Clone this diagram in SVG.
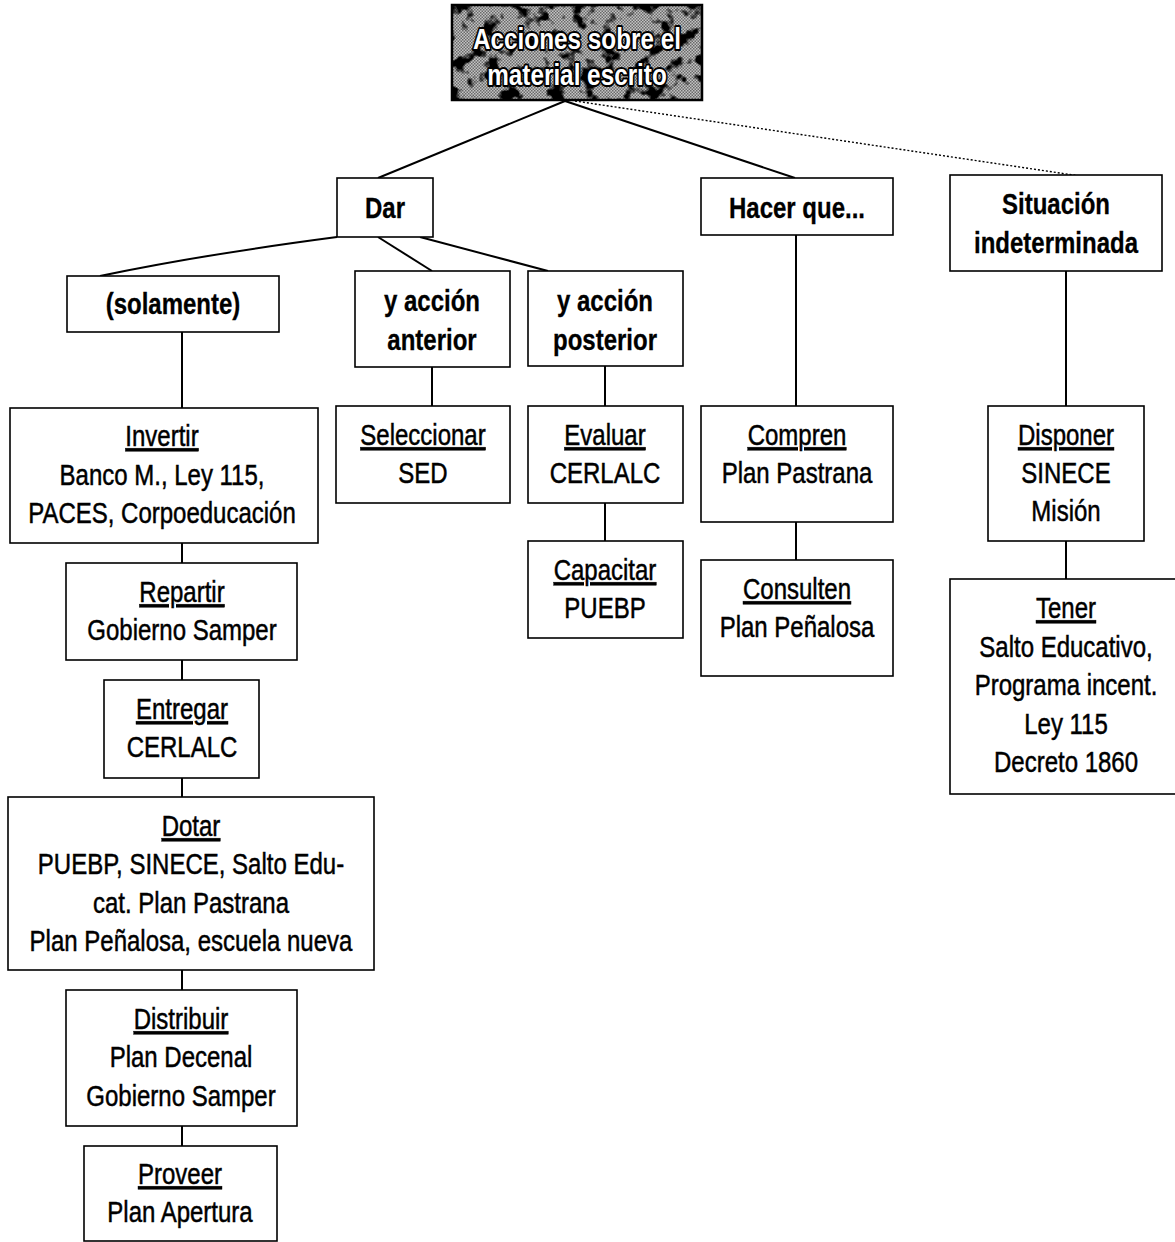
<svg xmlns="http://www.w3.org/2000/svg" width="1175" height="1242" viewBox="0 0 1175 1242">
  <style>
    .box { fill: #fff; stroke: #000; stroke-width: 1.6; }
    .link { stroke: #000; stroke-width: 2; fill: none; }
    .dot { stroke: #000; stroke-width: 1.4; stroke-dasharray: 2 2; fill: none; }
    text { font-family: "Liberation Sans", Arial, sans-serif; font-size: 30px; text-anchor: middle; fill: #000; stroke: #000; stroke-width: 0.5; }
    .b { font-weight: bold; stroke-width: 0.3; }
    .u { text-decoration: underline; }
    .title { font-weight: bold; font-size: 30px; fill: #fff; stroke: #000; stroke-width: 4; paint-order: stroke; stroke-linejoin: round; }
  </style>
  <defs>
    <pattern id="halftone" width="3" height="3" patternUnits="userSpaceOnUse">
      <rect width="3" height="3" fill="#c4c4c4"/>
      <rect width="1.5" height="1.5" fill="#6a6a6a"/>
      <rect x="1.5" y="1.5" width="1.5" height="1.5" fill="#6a6a6a"/>
    </pattern>
    <filter id="blotch" x="0" y="0" width="100%" height="100%">
      <feTurbulence type="fractalNoise" baseFrequency="0.06" numOctaves="3" seed="7" result="n"/>
      <feColorMatrix in="n" type="matrix" values="0 0 0 0 0  0 0 0 0 0  0 0 0 0 0  7 0 0 0 -3.6"/>
    </filter>
  </defs>

  <!-- connectors -->
  <g id="connectors">
    <line class="link" x1="565" y1="101" x2="378" y2="178"/>
    <line class="link" x1="565" y1="101" x2="795" y2="178"/>
    <line class="dot" x1="575" y1="101" x2="1080" y2="176"/>
    <path class="link" d="M337 237 Q200 255 100 276"/>
    <line class="link" x1="378" y1="237" x2="432" y2="271"/>
    <line class="link" x1="420" y1="237" x2="548" y2="271"/>
    <line class="link" x1="182" y1="332" x2="182" y2="408"/>
    <line class="link" x1="182" y1="543" x2="182" y2="563"/>
    <line class="link" x1="182" y1="660" x2="182" y2="680"/>
    <line class="link" x1="182" y1="778" x2="182" y2="797"/>
    <line class="link" x1="182" y1="970" x2="182" y2="990"/>
    <line class="link" x1="182" y1="1126" x2="182" y2="1146"/>
    <line class="link" x1="432" y1="367" x2="432" y2="406"/>
    <line class="link" x1="605" y1="366" x2="605" y2="406"/>
    <line class="link" x1="605" y1="503" x2="605" y2="541"/>
    <line class="link" x1="796" y1="235" x2="796" y2="406"/>
    <line class="link" x1="796" y1="522" x2="796" y2="560"/>
    <line class="link" x1="1066" y1="271" x2="1066" y2="406"/>
    <line class="link" x1="1066" y1="541" x2="1066" y2="579"/>
  </g>

  <g id="root">
    <rect x="452" y="5" width="250" height="95" fill="url(#halftone)"/>
    <rect x="452" y="5" width="250" height="95" filter="url(#blotch)"/>
    <rect x="452" y="5" width="250" height="95" fill="none" stroke="#000" stroke-width="2.5"/>
    <g transform="translate(577 0) scale(0.81 1)">
      <text class="title" x="0" y="49">Acciones sobre el</text>
      <text class="title" x="0" y="85">material escrito</text>
    </g>
  </g>

  <g id="dar">
    <rect class="box" x="337" y="178" width="96" height="59"/>
    <g transform="translate(385 0) scale(0.8 1)"><text class="b" x="0" y="218">Dar</text></g>
  </g>
  <g id="hacer">
    <rect class="box" x="701" y="178" width="192" height="57"/>
    <g transform="translate(797 0) scale(0.8 1)"><text class="b" x="0" y="218">Hacer que...</text></g>
  </g>
  <g id="situacion">
    <rect class="box" x="950" y="175" width="212" height="96"/>
    <g transform="translate(1056 0) scale(0.8 1)">
      <text class="b" x="0" y="214">Situación</text>
      <text class="b" x="0" y="253">indeterminada</text>
    </g>
  </g>

  <g id="solamente">
    <rect class="box" x="67" y="276" width="212" height="56"/>
    <g transform="translate(173 0) scale(0.8 1)"><text class="b" x="0" y="314">(solamente)</text></g>
  </g>
  <g id="anterior">
    <rect class="box" x="355" y="271" width="155" height="96"/>
    <g transform="translate(432 0) scale(0.8 1)">
      <text class="b" x="0" y="311">y acción</text>
      <text class="b" x="0" y="350">anterior</text>
    </g>
  </g>
  <g id="posterior">
    <rect class="box" x="528" y="271" width="155" height="95"/>
    <g transform="translate(605 0) scale(0.8 1)">
      <text class="b" x="0" y="311">y acción</text>
      <text class="b" x="0" y="350">posterior</text>
    </g>
  </g>

  <g id="invertir">
    <rect class="box" x="10" y="408" width="308" height="135"/>
    <g transform="translate(162 0) scale(0.8 1)">
      <text x="0" y="446"><tspan class="u">Invertir</tspan></text>
      <text x="0" y="485">Banco M., Ley 115,</text>
      <text x="0" y="523">PACES, Corpoeducación</text>
    </g>
  </g>
  <g id="repartir">
    <rect class="box" x="66" y="563" width="231" height="97"/>
    <g transform="translate(182 0) scale(0.8 1)">
      <text x="0" y="602"><tspan class="u">Repartir</tspan></text>
      <text x="0" y="640">Gobierno Samper</text>
    </g>
  </g>
  <g id="entregar">
    <rect class="box" x="104" y="680" width="155" height="98"/>
    <g transform="translate(182 0) scale(0.8 1)">
      <text x="0" y="719"><tspan class="u">Entregar</tspan></text>
      <text x="0" y="757">CERLALC</text>
    </g>
  </g>
  <g id="dotar">
    <rect class="box" x="8" y="797" width="366" height="173"/>
    <g transform="translate(191 0) scale(0.8 1)">
      <text x="0" y="836"><tspan class="u">Dotar</tspan></text>
      <text x="0" y="874">PUEBP, SINECE, Salto Edu-</text>
      <text x="0" y="913">cat. Plan Pastrana</text>
      <text x="0" y="951">Plan Peñalosa, escuela nueva</text>
    </g>
  </g>
  <g id="distribuir">
    <rect class="box" x="66" y="990" width="231" height="136"/>
    <g transform="translate(181 0) scale(0.8 1)">
      <text x="0" y="1029"><tspan class="u">Distribuir</tspan></text>
      <text x="0" y="1067">Plan Decenal</text>
      <text x="0" y="1106">Gobierno Samper</text>
    </g>
  </g>
  <g id="proveer">
    <rect class="box" x="84" y="1146" width="193" height="95"/>
    <g transform="translate(180 0) scale(0.8 1)">
      <text x="0" y="1184"><tspan class="u">Proveer</tspan></text>
      <text x="0" y="1222">Plan Apertura</text>
    </g>
  </g>

  <g id="seleccionar">
    <rect class="box" x="336" y="406" width="174" height="97"/>
    <g transform="translate(423 0) scale(0.8 1)">
      <text x="0" y="445"><tspan class="u">Seleccionar</tspan></text>
      <text x="0" y="483">SED</text>
    </g>
  </g>
  <g id="evaluar">
    <rect class="box" x="528" y="406" width="155" height="97"/>
    <g transform="translate(605 0) scale(0.8 1)">
      <text x="0" y="445"><tspan class="u">Evaluar</tspan></text>
      <text x="0" y="483">CERLALC</text>
    </g>
  </g>
  <g id="capacitar">
    <rect class="box" x="528" y="541" width="155" height="97"/>
    <g transform="translate(605 0) scale(0.8 1)">
      <text x="0" y="580"><tspan class="u">Capacitar</tspan></text>
      <text x="0" y="618">PUEBP</text>
    </g>
  </g>
  <g id="compren">
    <rect class="box" x="701" y="406" width="192" height="116"/>
    <g transform="translate(797 0) scale(0.8 1)">
      <text x="0" y="445"><tspan class="u">Compren</tspan></text>
      <text x="0" y="483">Plan Pastrana</text>
    </g>
  </g>
  <g id="consulten">
    <rect class="box" x="701" y="560" width="192" height="116"/>
    <g transform="translate(797 0) scale(0.8 1)">
      <text x="0" y="599"><tspan class="u">Consulten</tspan></text>
      <text x="0" y="637">Plan Peñalosa</text>
    </g>
  </g>
  <g id="disponer">
    <rect class="box" x="988" y="406" width="156" height="135"/>
    <g transform="translate(1066 0) scale(0.8 1)">
      <text x="0" y="445"><tspan class="u">Disponer</tspan></text>
      <text x="0" y="483">SINECE</text>
      <text x="0" y="521">Misión</text>
    </g>
  </g>
  <g id="tener">
    <rect class="box" x="950" y="579" width="230" height="215"/>
    <g transform="translate(1066 0) scale(0.8 1)">
      <text x="0" y="618"><tspan class="u">Tener</tspan></text>
      <text x="0" y="657">Salto Educativo,</text>
      <text x="0" y="695">Programa incent.</text>
      <text x="0" y="734">Ley 115</text>
      <text x="0" y="772">Decreto 1860</text>
    </g>
  </g>
</svg>
